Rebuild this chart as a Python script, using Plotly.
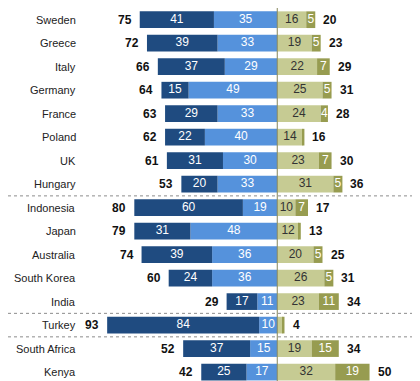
import plotly.graph_objects as go

countries = ["Sweden", "Greece", "Italy", "Germany", "France", "Poland", "UK", "Hungary",
             "Indonesia", "Japan", "Australia", "South Korea", "India", "Turkey",
             "South Africa", "Kenya", ""]
dark_blue = [41, 39, 37, 15, 29, 22, 31, 20, 60, 31, 39, 24, 17, 84, 37, 25, 18]
light_blue = [35, 33, 29, 49, 33, 40, 30, 33, 19, 48, 36, 36, 11, 10, 15, 17, 14]
left_total = [75, 72, 66, 64, 63, 62, 61, 53, 80, 79, 74, 60, 29, 93, 52, 42, None]
light_olive = [16, 19, 22, 25, 24, 14, 23, 31, 10, 12, 20, 26, 23, 3, 19, 32, 35]
dark_olive = [5, 5, 7, 5, 4, 1, 7, 5, 7, 1, 5, 5, 11, 1, 15, 19, 24]
right_total = [20, 23, 29, 31, 28, 16, 30, 36, 17, 13, 25, 31, 34, 4, 34, 50, None]
separators_after = [7, 12, 13]

C_DB = "#1f4b80"
C_LB = "#5592dc"
C_LO = "#c6cb93"
C_DO = "#979c50"
FONT = "Liberation Sans, Arial, sans-serif"

n = len(countries)
ys = list(range(n))
W = 0.71

fig = go.Figure()
fig.add_trace(go.Bar(y=ys, x=[-v for v in light_blue], orientation="h", marker=dict(color=C_LB, line=dict(width=0)), width=W))
fig.add_trace(go.Bar(y=ys, x=[-v for v in dark_blue], orientation="h", marker=dict(color=C_DB, line=dict(width=0)), width=W))
fig.add_trace(go.Bar(y=ys, x=light_olive, orientation="h", marker=dict(color=C_LO, line=dict(width=0)), width=W))
fig.add_trace(go.Bar(y=ys, x=dark_olive, orientation="h", marker=dict(color=C_DO, line=dict(width=0)), width=W))


def lab(v, i):
    # last row is cut off by the frame in the reference: no visible labels
    if not countries[i]:
        return ""
    return str(v) if v >= 4 else ""


segs = [
    ([-(lb + db / 2) for db, lb in zip(dark_blue, light_blue)], dark_blue, "white"),
    ([-(lb / 2) for lb in light_blue], light_blue, "white"),
    ([lo / 2 for lo in light_olive], light_olive, "#333333"),
    ([lo + do / 2 for lo, do in zip(light_olive, dark_olive)], dark_olive, "white"),
]
for xs, vals, col in segs:
    fig.add_trace(go.Scatter(x=xs, y=ys, mode="text", text=[lab(v, i) for i, v in enumerate(vals)],
                             textposition="middle center",
                             textfont=dict(family=FONT, size=12, color=col),
                             hoverinfo="skip"))

annotations = []
for i in range(n):
    if countries[i]:
        annotations.append(dict(x=70 / 420, xref="paper", y=i, yref="y", text=countries[i],
                                showarrow=False, xanchor="right", yanchor="middle",
                                font=dict(family=FONT, size=11, color="#222222")))
    if left_total[i] is not None:
        annotations.append(dict(x=-(dark_blue[i] + light_blue[i]), xref="x", y=i, yref="y",
                                text="<b>%d</b>" % left_total[i], showarrow=False,
                                xanchor="right", yanchor="middle", xshift=-6,
                                font=dict(family=FONT, size=12, color="#111111")))
    if right_total[i] is not None:
        annotations.append(dict(x=light_olive[i] + dark_olive[i], xref="x", y=i, yref="y",
                                text="<b>%d</b>" % right_total[i], showarrow=False,
                                xanchor="left", yanchor="middle", xshift=6,
                                font=dict(family=FONT, size=12, color="#111111")))

shapes = [dict(type="line", xref="x", yref="paper", x0=0, x1=0, y0=0, y1=1,
               line=dict(color="#85855a", width=1), layer="above")]
for s in separators_after:
    shapes.append(dict(type="line", xref="paper", yref="y", x0=0, x1=413 / 420,
                       y0=s + 0.5, y1=s + 0.5,
                       line=dict(color="#8c8c8c", width=1, dash="dot")))

fig.update_layout(
    width=420, height=381,
    margin=dict(l=0, r=0, t=0, b=0),
    barmode="relative",
    showlegend=False,
    plot_bgcolor="white", paper_bgcolor="white",
    xaxis=dict(range=[-148.8, 83.3], visible=False, fixedrange=True),
    yaxis=dict(range=[15.72, -0.498], visible=False, fixedrange=True),
    annotations=annotations,
    shapes=shapes,
)

fig.write_html("out.html")
